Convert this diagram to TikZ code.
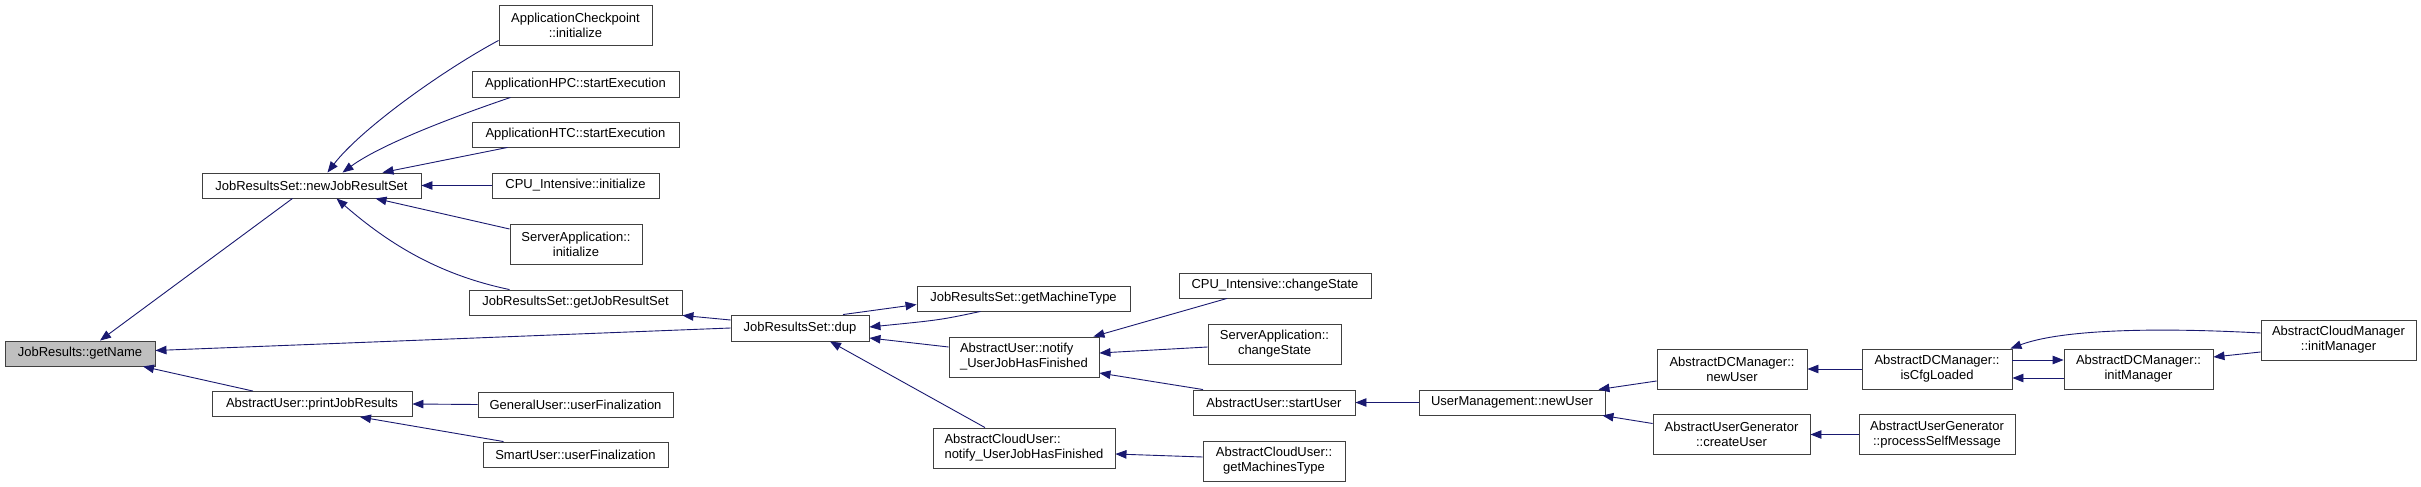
\documentclass[tikz,border=0pt]{standalone}
\usepackage{fontspec}
\setmainfont{Liberation Sans}
\usetikzlibrary{arrows.meta}
\definecolor{edgeblue}{HTML}{191970}
\definecolor{boxgray}{HTML}{BFBFBF}
\tikzset{
  fnbox/.style={draw=black!75, line width=0.9pt, fill=white, inner sep=0pt,
    align=center, font=\fontsize{13}{15}\selectfont},
  calledge/.style={edgeblue, line width=0.9pt, -{Triangle[length=11pt,width=8.5pt]}},
}

\begin{document}
\begin{tikzpicture}[x=1pt,y=-1pt]
  \useasboundingbox[fill=white] (0,0) rectangle (2421,487);

  % the function whose callers are shown
  \node[fnbox, fill=boxgray, minimum width=150pt, minimum height=25pt] (getName) at (80,353.5) {JobResults::getName};

  % first level
  \node[fnbox, minimum width=219pt, minimum height=25pt] (newJob) at (311.5,185.5) {JobResultsSet::newJobResultSet};
  \node[fnbox, minimum width=200pt, minimum height=25pt] (printRes) at (312,404) {AbstractUser::printJobResults};

  % second level
  \node[fnbox, minimum width=153pt, minimum height=40pt] (ckptInit) at (575.5,25) {ApplicationCheckpoint\\::initialize};
  \node[fnbox, minimum width=207pt, minimum height=26pt] (hpcStart) at (575.5,84) {ApplicationHPC::startExecution};
  \node[fnbox, minimum width=207pt, minimum height=25pt] (htcStart) at (575.5,134.5) {ApplicationHTC::startExecution};
  \node[fnbox, minimum width=167pt, minimum height=25pt] (cpuInit) at (575.5,185.5) {CPU\_Intensive::initialize};
  \node[fnbox, minimum width=132pt, minimum height=40pt] (srvInit) at (576,244) {ServerApplication::\\initialize};
  \node[fnbox, minimum width=213pt, minimum height=25pt] (getJRS) at (575.5,302.5) {JobResultsSet::getJobResultSet};
  \node[fnbox, minimum width=195pt, minimum height=25pt] (genFinal) at (575.5,404.5) {GeneralUser::userFinalization};
  \node[fnbox, minimum width=185pt, minimum height=25pt] (smartFinal) at (575.5,454.5) {SmartUser::userFinalization};

  % third level
  \node[fnbox, minimum width=138pt, minimum height=26pt] (dup) at (800,328) {JobResultsSet::dup};

  % fourth level
  \node[fnbox, minimum width=213pt, minimum height=25pt] (getMT) at (1023.5,298.5) {JobResultsSet::getMachineType};
  \node[fnbox, align=left, minimum width=150pt, minimum height=40pt] (auNotify) at (1024,357) {AbstractUser::notify\\\_UserJobHasFinished};
  \node[fnbox, align=left, minimum width=182pt, minimum height=40pt] (acuNotify) at (1024,448) {AbstractCloudUser::\\notify\_UserJobHasFinished};

  % fifth level
  \node[fnbox, minimum width=192pt, minimum height=25pt] (cpuChange) at (1275,285.5) {CPU\_Intensive::changeState};
  \node[fnbox, minimum width=133pt, minimum height=40pt] (srvChange) at (1274.5,344) {ServerApplication::\\changeState};
  \node[fnbox, minimum width=162pt, minimum height=25pt] (startUser) at (1274,402.5) {AbstractUser::startUser};
  \node[fnbox, minimum width=142pt, minimum height=40pt] (getMsType) at (1274,461) {AbstractCloudUser::\\getMachinesType};

  % user management and managers
  \node[fnbox, minimum width=186pt, minimum height=25pt] (umNewUser) at (1512,402.5) {UserManagement::newUser};
  \node[fnbox, minimum width=150pt, minimum height=40pt] (dcNewUser) at (1732,369) {AbstractDCManager::\\newUser};
  \node[fnbox, minimum width=157pt, minimum height=40pt] (createUser) at (1731.5,434.5) {AbstractUserGenerator\\::createUser};
  \node[fnbox, minimum width=150pt, minimum height=40pt] (isCfg) at (1937,369) {AbstractDCManager::\\isCfgLoaded};
  \node[fnbox, minimum width=156pt, minimum height=40pt] (selfMsg) at (1937,434.5) {AbstractUserGenerator\\::processSelfMessage};
  \node[fnbox, minimum width=149pt, minimum height=40pt] (dcInit) at (2138.5,369) {AbstractDCManager::\\initManager};
  \node[fnbox, minimum width=155pt, minimum height=40pt] (acmInit) at (2338.5,340) {AbstractCloudManager\\::initManager};

  % calls into getName
  \draw[calledge] ([xshift=-19pt]newJob.south) -- ([xshift=20pt]getName.north);
  \draw[calledge] (dup.west) -- ([yshift=3pt]getName.east);
  \draw[calledge] ([xshift=-59pt]printRes.north) -- ([xshift=63pt]getName.south);

  % calls into newJobResultSet
  \draw[calledge] ([yshift=5pt]ckptInit.south west) .. controls (440,72) and (360,130) .. ([xshift=16pt]newJob.north);
  \draw[calledge] ([xshift=-65pt]hpcStart.south) .. controls (450,118) and (380,145) .. ([xshift=31pt]newJob.north);
  \draw[calledge] ([xshift=-68pt]htcStart.south) -- ([xshift=71pt]newJob.north);
  \draw[calledge] (cpuInit.west) -- (newJob.east);
  \draw[calledge] ([yshift=15pt]srvInit.west) -- ([xshift=64pt]newJob.south);
  \draw[calledge] ([xshift=-66pt]getJRS.north) .. controls (440,275) and (390,245) .. ([xshift=25pt]newJob.south);

  % calls into printJobResults
  \draw[calledge] (genFinal.west) -- (printRes.east);
  \draw[calledge] ([xshift=-72pt]smartFinal.north) -- ([xshift=48pt]printRes.south);

  % calls around dup
  \draw[calledge] ([yshift=8pt]dup.west) -- (getJRS.south east);
  \draw[calledge] ([xshift=43pt]dup.north) -- ([yshift=-6pt]getMT.west);
  \draw[calledge] ([xshift=-43pt]getMT.south) .. controls (940,320) .. ([yshift=1pt]dup.east);
  \draw[calledge] ([yshift=10pt]auNotify.west) -- ([yshift=-10pt]dup.east);
  \draw[calledge] ([xshift=-39pt]acuNotify.north) -- ([xshift=30pt]dup.south);

  % calls into the notify functions
  \draw[calledge] ([xshift=-48pt]cpuChange.south) -- ([xshift=-6pt]auNotify.north east);
  \draw[calledge] ([yshift=-3pt]srvChange.west) -- ([yshift=4pt]auNotify.east);
  \draw[calledge] ([xshift=-71pt]startUser.north) -- ([yshift=-16pt]auNotify.east);
  \draw[calledge] ([yshift=4pt]getMsType.west) -- ([yshift=-6pt]acuNotify.east);

  % user and manager chain
  \draw[calledge] (umNewUser.west) -- (startUser.east);
  \draw[calledge] ([yshift=-12pt]dcNewUser.west) -- ([xshift=-7pt]umNewUser.north east);
  \draw[calledge] ([yshift=11pt]createUser.west) -- ([xshift=-3pt]umNewUser.south east);
  \draw[calledge] (isCfg.west) -- (dcNewUser.east);
  \draw[calledge] (selfMsg.west) -- (createUser.east);
  \draw[calledge] ([yshift=9pt]isCfg.east) -- ([yshift=9pt]dcInit.west);
  \draw[calledge] ([yshift=-9pt]dcInit.west) -- ([yshift=-9pt]isCfg.east);
  \draw[calledge] ([yshift=7pt]acmInit.west) .. controls (2150,327) and (2060,330) .. ([xshift=-2pt]isCfg.north east);
  \draw[calledge] ([yshift=-12pt]acmInit.west) -- ([yshift=12pt]dcInit.east);
\end{tikzpicture}
\end{document}
